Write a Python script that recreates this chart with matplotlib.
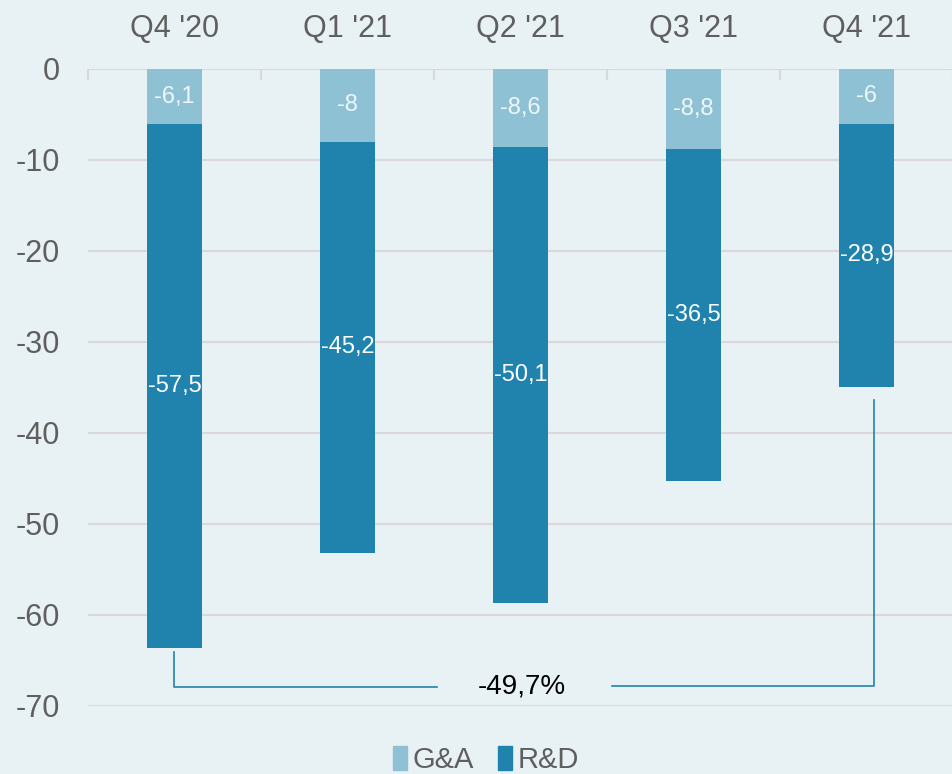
import matplotlib.pyplot as plt
import numpy as np
from matplotlib.patches import Patch

quarters = ["Q4 '20", "Q1 '21", "Q2 '21", "Q3 '21", "Q4 '21"]
ga = [-6.1, -8.0, -8.6, -8.8, -6.0]
rd = [-57.5, -45.2, -50.1, -36.5, -28.9]
ga_labels = ["-6,1", "-8", "-8,6", "-8,8", "-6"]
rd_labels = ["-57,5", "-45,2", "-50,1", "-36,5", "-28,9"]
change_label = "-49,7%"

BG = "#e8f1f4"
GA_COLOR = "#8fc1d4"
RD_COLOR = "#2083ad"
GRID = "#d9d9d9"
TEXT = "#5f5f5f"

plt.rcParams["font.family"] = ["Liberation Sans", "DejaVu Sans"]
plt.rcParams["axes.unicode_minus"] = False

fig = plt.figure(figsize=(9.53, 7.74), dpi=100, facecolor=BG)
ax = fig.add_axes([0.0923, 0.0879, 0.9077, 0.8230])
ax.set_facecolor(BG)

x = np.arange(len(quarters))
ga = np.array(ga)
rd = np.array(rd)
width = 0.315

ax.bar(x, ga, width, color=GA_COLOR, zorder=3, label="G&A")
ax.bar(x, rd, width, bottom=ga, color=RD_COLOR, zorder=3, label="R&D")

for i in range(len(x)):
    ax.text(x[i], ga[i] / 2, ga_labels[i], ha="center", va="center",
            color="#eef6f9", fontsize=17, zorder=4)
    ax.text(x[i], ga[i] + rd[i] / 2, rd_labels[i], ha="center", va="center",
            color="white", fontsize=17, zorder=4)

# bracket showing change from first to last quarter
totals = ga + rd
y_br = -67.9
x_end = x[-1] + 0.045
ax.plot([x[0], x[0], 1.52], [totals[0] - 0.5, y_br, y_br], color=RD_COLOR, lw=1.2, zorder=3)
ax.plot([2.53, x_end, x_end], [y_br + 0.1, y_br + 0.1, totals[-1] - 1.5], color=RD_COLOR, lw=1.2, zorder=3)
ax.text(2.01, y_br, change_label, ha="center", va="center", color="black", fontsize=20, zorder=4)

ax.set_xlim(-0.5, 4.44)
ax.set_ylim(-70, 0)
ax.set_yticks(np.arange(-70, 1, 10))
ax.yaxis.grid(True, color=GRID, lw=1.5, zorder=0)
ax.set_axisbelow(True)
ax.tick_params(axis="y", length=0, labelsize=22, labelcolor=TEXT, pad=20)

ax.xaxis.tick_top()
ax.set_xticks(x)
ax.set_xticklabels(quarters)
ax.set_xticks(np.arange(-0.5, 4.6, 1), minor=True)
ax.tick_params(axis="x", which="major", length=0, labelsize=22, labelcolor=TEXT, pad=18)
ax.tick_params(axis="x", which="minor", direction="in", length=8, color=GRID, width=1.5)

for s in ax.spines.values():
    s.set_visible(False)

handles = [Patch(color=GA_COLOR, label="G&A"), Patch(color=RD_COLOR, label="R&D")]
fig.legend(handles=handles, loc="center", bbox_to_anchor=(0.51, 0.018), ncol=2,
           frameon=False, fontsize=21, labelcolor=TEXT, handlelength=0.5,
           handleheight=0.9, handletextpad=0.2, columnspacing=0.8)

fig.savefig("out.png", dpi=100, facecolor=BG)
